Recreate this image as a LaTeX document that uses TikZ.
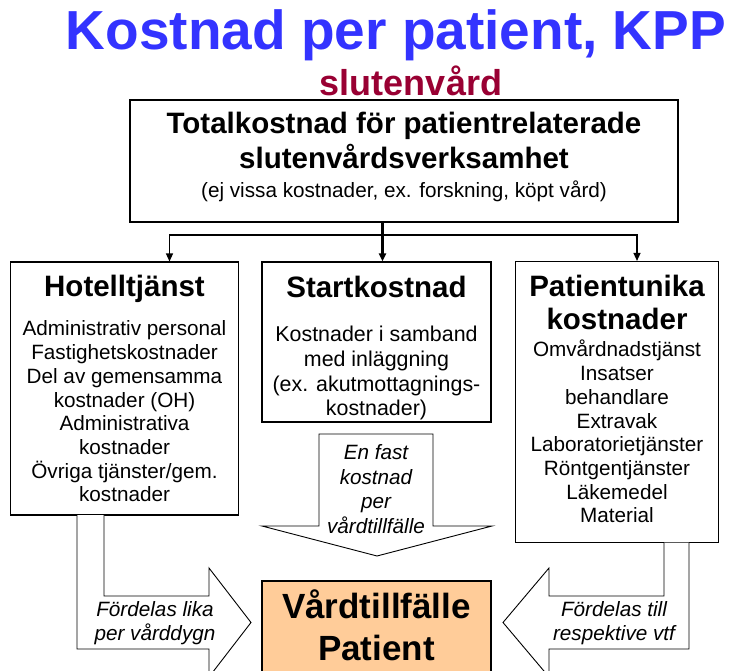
\documentclass[tikz,border=0pt]{standalone}
\usepackage{fontspec}
\setmainfont{Liberation Sans}
\usetikzlibrary{arrows.meta,positioning}
\definecolor{kppblue}{RGB}{51,51,255}
\definecolor{kppred}{RGB}{153,0,51}
\definecolor{kpppeach}{RGB}{255,204,153}
\newcommand\kpphuge{\fontsize{55}{60}\selectfont\bfseries}
\newcommand\kppsub{\fontsize{36}{40}\selectfont\bfseries}
\newcommand\kpphead{\fontsize{29.5}{33}\selectfont\bfseries}
\newcommand\kppbody{\fontsize{20.7}{23.7}\selectfont}
\newcommand\kppbig{\fontsize{35}{42}\selectfont\bfseries}
\begin{document}
\begin{tikzpicture}[
			x=1pt,y=-1pt,
			box/.style={draw,line width=1.1pt,align=center,inner sep=0pt,font=\kppbody},
			blockarrow/.style={draw,line width=0.9pt,fill=white},
			feed/.style={-{Triangle[length=8pt,width=7pt]},line width=1.3pt},
			note/.style={align=center,inner sep=0pt,font=\kppbody\itshape}
		]
		\useasboundingbox (0,0) rectangle (734,671);
		\node[font=\kpphuge,text=kppblue,anchor=base] (title) at (396,50) {Kostnad per patient, KPP};
		\node[font=\kppsub,text=kppred,anchor=base] (sub) at (411,96) {slutenvård};

		\node[box,minimum width=548,minimum height=122] (total) at (404,161)
			{{\kpphead Totalkostnad för patientrelaterade}\\[3pt]
			{\kpphead slutenvårdsverksamhet}\\[6pt]
			(ej vissa kostnader, ex. forskning, köpt vård)\rule[-12pt]{0pt}{12pt}};

		\node[box,minimum width=228,minimum height=253] (hotel) at (124.5,388.5)
			{{\kpphead Hotelltjänst}\\[16pt]
			Administrativ personal\\ Fastighetskostnader\\ Del av gemensamma\\ kostnader (OH)\\
			Administrativa\\ kostnader\\ Övriga tjänster/gem.\\ kostnader};
		\node[box,minimum width=229,minimum height=160,font=\fontsize{21.4}{24.7}\selectfont] (start) at (376.5,342)
			{{\kpphead\rule{0pt}{33.5pt}Startkostnad}\\[20pt]
			Kostnader i samband\\ med inläggning\\ (ex. akutmottagnings-\\ kostnader)};
		\node[box,minimum width=203,minimum height=281] (patient) at (617,402)
			{{\kpphead Patientunika}\\[9pt]
			{\kpphead kostnader}\\[4pt]
			Omvårdnadstjänst\\ Insatser\\ behandlare\\ Extravak\\
			Laboratorietjänster\\ Röntgentjänster\\ Läkemedel\\ Material\rule[-6pt]{0pt}{6pt}};
		\node[box,fill=kpppeach,minimum width=229,minimum height=120,font=\kppbig] (vard) at (376.5,641)
			{Vårdtillfälle\\ Patient\rule[-31pt]{0pt}{31pt}};

		\coordinate (split) at (382,235);
		\draw[feed,line width=2.4pt] ([xshift=6]start.north |- total.south) -- ([xshift=6]start.north);
		\draw[feed] (split) -| ([xshift=45]hotel.north);
		\draw[feed] (split) -| ([xshift=20]patient.north);

		\draw[blockarrow] (319,434) -- (433,434) -- (433,526) -- (492,526) -- (377,556)
			-- (262,526) -- (319,526) -- cycle;
		\node[note,font=\fontsize{20.7}{24.7}\selectfont\itshape] (fast) at (376,489)
			{En fast\\ kostnad\\ per\\ vårdtillfälle};

		\draw[blockarrow] (77,515) -- (77,649) -- (209,649) -- (209,677) -- (251,622.5)
			-- (209,568) -- (209,596) -- (104,596) -- (104,515);
		\node[note] (lika) at (155,623) {Fördelas lika\\ per vårddygn};

		\draw[blockarrow] (664,542.5) -- (664,596) -- (549,596) -- (549,568) -- (503,622.5)
			-- (549,677) -- (549,649) -- (689,649) -- (689,542.5);
		\node[note] (till) at (614,623) {Fördelas till\\ respektive vtf};
	\end{tikzpicture}
\end{document}
